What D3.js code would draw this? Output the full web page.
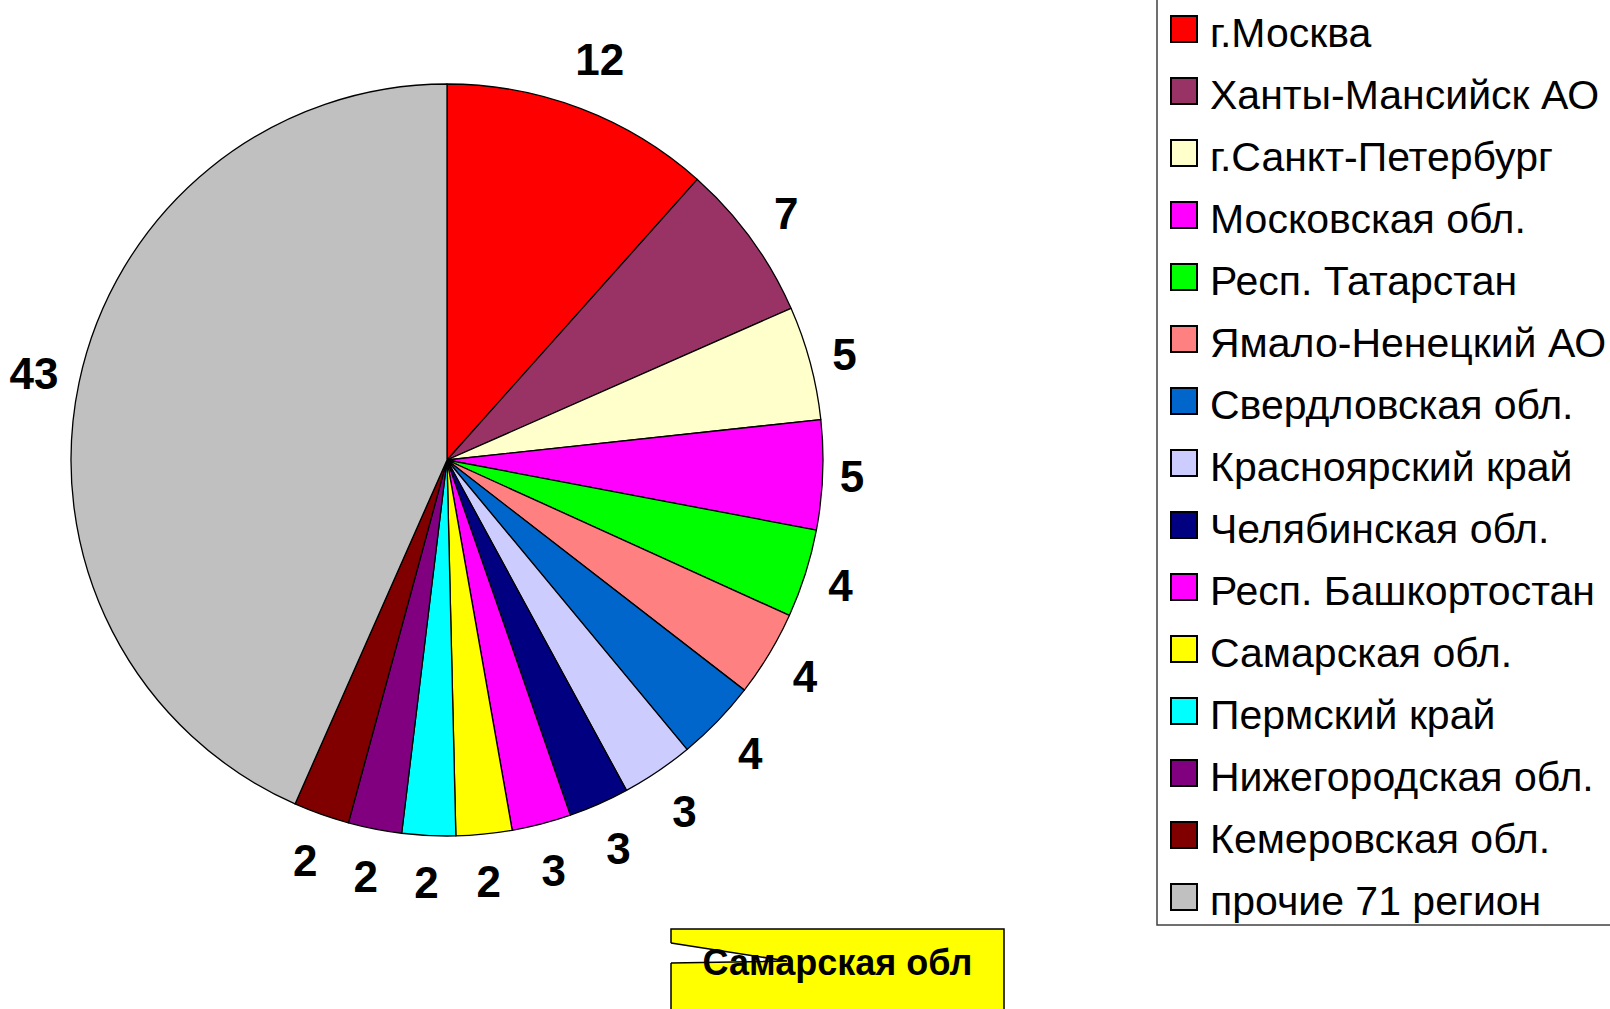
<!DOCTYPE html>
<html>
<head>
<meta charset="utf-8">
<script src="https://cdn.jsdelivr.net/npm/d3@7"></script>
<style>
body { margin:0; background:#fff; }
svg { display:block; font-family:"Liberation Sans", Arial, sans-serif; }
</style>
</head>
<body>
<svg class="chart" width="1610" height="1009"></svg>
<script>
// regions, in the order the slices go clockwise from 12 o'clock
var regions = ["г.Москва", "Ханты-Мансийск АО", "г.Санкт-Петербург", "Московская обл.",
  "Респ. Татарстан", "Ямало-Ненецкий АО", "Свердловская обл.", "Красноярский край",
  "Челябинская обл.", "Респ. Башкортостан", "Самарская обл.", "Пермский край",
  "Нижегородская обл.", "Кемеровская обл.", "прочие 71 регион"];
// share in %
var shares = [11.6, 6.8, 4.9, 4.7, 3.8, 3.7, 3.5, 3.1, 2.6, 2.55, 2.4, 2.3, 2.3, 2.4, 43.4];
var colors = ["#ff0000", "#993366", "#ffffcc", "#ff00ff", "#00ff00", "#ff8080", "#0066cc",
  "#ccccff", "#000080", "#ff00ff", "#ffff00", "#00ffff", "#800080", "#800000", "#c0c0c0"];
var calloutText = "Самарская обл";

var svg = d3.select("svg.chart");
var cx = 447, cy = 460, r = 376;

var data = regions.map(function(d,i){ return {name:d, value:shares[i], color:colors[i]}; });

var pie = d3.pie().sort(null).value(function(d){return d.value;});
var arc = d3.arc().innerRadius(0).outerRadius(r);
var arcs = pie(data);

var g = svg.append("g").attr("transform", "translate(" + cx + "," + cy + ")");

g.selectAll("path.slice")
  .data(arcs)
  .enter().append("path")
  .attr("class", "slice")
  .attr("d", arc)
  .attr("fill", function(d){return d.data.color;})
  .attr("stroke", "#000")
  .attr("stroke-width", 1.3)
  .attr("stroke-linejoin", "round");

// value labels just outside the rim, pushed out by half the label box
var labels = g.selectAll("text.val")
  .data(arcs)
  .enter().append("text")
  .attr("class", "val")
  .attr("font-size", 44)
  .attr("font-weight", "bold")
  .attr("text-anchor", "middle")
  .attr("fill", "#000")
  .text(function(d){ return Math.round(d.data.value); });

labels.each(function(d){
  var w = this.getComputedTextLength();
  var a = (d.startAngle + d.endAngle) / 2;
  var s = Math.sin(a), c = Math.cos(a);
  var dist = r + 16 + Math.abs(s) * w/2 + Math.abs(c) * 30;
  d3.select(this).attr("x", s * dist).attr("y", -c * dist + 16);
});

// legend
var legendX = 1157, step = 62, firstY = 29;
svg.append("rect")
  .attr("x", legendX).attr("y", -10)
  .attr("width", 520).attr("height", 935)
  .attr("fill", "#fff")
  .attr("stroke", "#404040")
  .attr("stroke-width", 1.5);

var items = svg.append("g").selectAll("g")
  .data(data)
  .enter().append("g")
  .attr("transform", function(d,i){ return "translate(0," + (firstY + i*step) + ")"; });

items.append("rect")
  .attr("x", 1171).attr("y", -13)
  .attr("width", 26).attr("height", 26)
  .attr("fill", function(d){return d.color;})
  .attr("stroke", "#000")
  .attr("stroke-width", 2);

items.append("text")
  .attr("x", 1210).attr("y", 18)
  .attr("font-size", 41)
  .attr("fill", "#000")
  .text(function(d){return d.name;});

// yellow callout at the bottom
var box = {x0:671, x1:1004, y0:929};
svg.append("rect")
  .attr("x", box.x0).attr("y", box.y0)
  .attr("width", box.x1 - box.x0).attr("height", 120)
  .attr("fill", "#ffff00")
  .attr("stroke", "#000")
  .attr("stroke-width", 1.5);
svg.append("path")
  .attr("d", "M" + (box.x0-1) + ",943 L787,961 L" + (box.x0-1) + ",963 Z")
  .attr("fill", "#fff")
  .attr("stroke", "none");
svg.append("path")
  .attr("d", "M" + box.x0 + ",943 L787,961 L" + box.x0 + ",963")
  .attr("fill", "none")
  .attr("stroke", "#000")
  .attr("stroke-width", 1.5);
svg.append("text")
  .attr("x", (box.x0 + box.x1)/2).attr("y", 975)
  .attr("text-anchor", "middle")
  .attr("font-size", 36)
  .attr("font-weight", "bold")
  .text(calloutText);
</script>
</body>
</html>
